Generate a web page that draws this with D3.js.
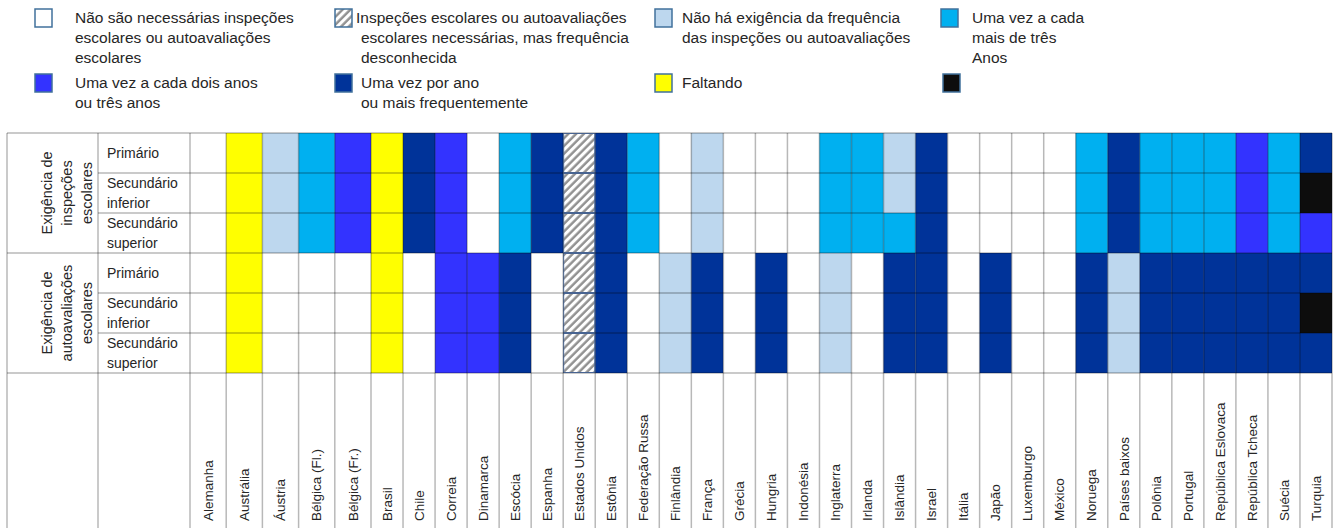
<!DOCTYPE html>
<html>
<head>
<meta charset="utf-8">
<script src="https://cdn.jsdelivr.net/npm/d3@7"></script>
<style>
  body { margin: 0; background: #fff; }
  text { font-family: "Liberation Sans", Arial, sans-serif; fill: #262626; }
</style>
</head>
<body>
<svg id="chart"></svg>
<script>
// codes: N = não necessárias, H = frequência desconhecida, L = sem exigência de frequência,
// C = mais de três anos, B = dois ou três anos, D = uma vez por ano, Y = faltando, K = preto
const countries = ["Alemanha", "Austrália", "Áustria", "Bélgica (Fl.)", "Bélgica (Fr.)", "Brasil", "Chile",
  "Correia", "Dinamarca", "Escócia", "Espanha", "Estados Unidos", "Estônia", "Federação Russa", "Finlândia",
  "França", "Grécia", "Hungria", "Indonésia", "Inglaterra", "Irlanda", "Islândia", "Israel", "Itália", "Japão",
  "Luxemburgo", "México", "Noruega", "Países baixos", "Polônia", "Portugal", "República  Eslovaca",
  "República Tcheca", "Suécia", "Turquia"];

const levels = [["Primário"], ["Secundário", "inferior"], ["Secundário", "superior"]];
const groups = [["Exigência de", "inspeções", "escolares"], ["Exigência de", "autoavaliações", "escolares"]];

// per country: primário, secundário inferior, secundário superior
const inspecoes = ["NNN", "YYY", "LLL", "CCC", "BBB", "YYY", "DDD", "BBB", "NNN", "CCC", "DDD", "HHH",
  "DDD", "CCC", "NNN", "LLL", "NNN", "NNN", "NNN", "CCC", "CCC", "LLC", "DDD", "NNN", "NNN", "NNN", "NNN",
  "CCC", "DDD", "CCC", "CCC", "CCC", "BBB", "CCC", "DKB"];
const autoavaliacoes = ["NNN", "YYY", "NNN", "NNN", "NNN", "YYY", "NNN", "BBB", "BBB", "DDD", "NNN", "HHH",
  "DDD", "NNN", "LLL", "DDD", "NNN", "DDD", "NNN", "LLL", "NNN", "DDD", "DDD", "NNN", "DDD", "NNN", "NNN",
  "DDD", "LLL", "DDD", "DDD", "DDD", "DDD", "DDD", "DKD"];

const legendCodes = ["N", "H", "L", "C", "B", "D", "Y", "K"];
const legendLabels = [
  ["Não são necessárias inspeções", "escolares ou autoavaliações", "escolares"],
  ["Inspeções escolares ou autoavaliações", "escolares necessárias, mas frequência", "desconhecida"],
  ["Não há exigência da frequência", "das inspeções ou autoavaliações"],
  ["Uma vez a cada", "mais de três", "Anos"],
  ["Uma vez a cada dois anos", "ou três anos"],
  ["Uma vez por ano", "ou mais frequentemente"],
  ["Faltando"],
  []
];

const width = 1339, height = 528;
const colors = { N: "#ffffff", L: "#bdd7ee", C: "#00b0f0", B: "#3333ff", D: "#003399", Y: "#ffff00", K: "#0d0d0d" };

const svg = d3.select("#chart").attr("width", width).attr("height", height);

const defs = svg.append("defs");
const pat = defs.append("pattern")
  .attr("id", "hatch")
  .attr("patternUnits", "userSpaceOnUse")
  .attr("width", 5.5).attr("height", 5.5)
  .attr("patternTransform", "rotate(45)");
pat.append("rect").attr("width", 5.5).attr("height", 5.5).attr("fill", "#fff");
pat.append("line").attr("x1", 1.5).attr("x2", 1.5).attr("y1", 0).attr("y2", 5.5)
  .attr("stroke", "#8f8f8f").attr("stroke-width", 2.4);

const fill = c => c === "H" ? "url(#hatch)" : colors[c];

// table geometry
const tableLeft = 7, groupRight = 98, labelRight = 190, tableRight = 1332;
const gridTop = 133, gridBottom = 373;

const x = d3.scaleLinear().domain([0, 5, countries.length]).range([labelRight, 371, tableRight]);
const y = d3.scaleBand().domain(d3.range(6)).range([gridTop, gridBottom]);

const cells = [];
countries.forEach((c, i) => {
  [inspecoes[i], autoavaliacoes[i]].forEach((s, g) => {
    s.split("").forEach((code, r) => cells.push({ col: i, row: g * 3 + r, code }));
  });
});

const g = svg.append("g");

g.selectAll("rect.cell").data(cells).enter().append("rect")
  .attr("class", "cell")
  .attr("x", d => x(d.col))
  .attr("y", d => y(d.row))
  .attr("width", d => x(d.col + 1) - x(d.col))
  .attr("height", y.bandwidth())
  .attr("fill", d => fill(d.code));

// hatched cell borders
g.selectAll("rect.hb").data(cells.filter(d => d.code === "H")).enter().append("rect")
  .attr("x", d => x(d.col) + 0.5)
  .attr("y", d => y(d.row) + 0.5)
  .attr("width", d => x(d.col + 1) - x(d.col) - 1)
  .attr("height", y.bandwidth() - 1)
  .attr("fill", "none").attr("stroke", "#5b7fb8").attr("stroke-width", 1);

const lineCol = "rgba(0,0,0,0.28)";
// vertical lines
const vx = [tableLeft, groupRight].concat(d3.range(countries.length + 1).map(i => x(i)));
g.selectAll("line.v").data(vx).enter().append("line")
  .attr("x1", d => d).attr("x2", d => d)
  .attr("y1", gridTop).attr("y2", height)
  .attr("stroke", lineCol).attr("stroke-width", 1.5);
// horizontal lines
const hy = d3.range(7).map(i => i < 6 ? y(i) : gridBottom);
g.selectAll("line.h").data(hy).enter().append("line")
  .attr("x1", (d, i) => i % 3 === 0 ? tableLeft : groupRight)
  .attr("x2", tableRight)
  .attr("y1", d => d).attr("y2", d => d)
  .attr("stroke", lineCol).attr("stroke-width", 1.5);

// row labels
levels.concat(levels).forEach((lines, r) => {
  const cy = y(r) + y.bandwidth() / 2;
  const t = g.append("text").attr("font-size", 14);
  lines.forEach((l, k) => {
    t.append("tspan").attr("x", 107)
      .attr("y", cy + 5 + (k - (lines.length - 1) / 2) * 20)
      .text(l);
  });
});

// group labels
groups.forEach((lines, gi) => {
  const cy = (y(gi * 3) + y(gi * 3 + 2) + y.bandwidth()) / 2;
  lines.forEach((l, k) => {
    g.append("text")
      .attr("transform", `translate(${47 + k * 20},${cy}) rotate(-90)`)
      .attr("text-anchor", "middle")
      .attr("dy", "0.35em")
      .attr("font-size", 14.5)
      .text(l);
  });
});

// country labels
g.selectAll("text.country").data(countries).enter().append("text")
  .attr("class", "country")
  .attr("transform", (d, i) => `translate(${(x(i) + x(i + 1)) / 2},521) rotate(-90)`)
  .attr("dy", "0.35em")
  .attr("font-size", 13.5)
  .text(d => d);

// legend
const legCols = [{ bx: 35, tx: 75 }, { bx: 335, tx: 361 }, { bx: 655, tx: 682 }, { bx: 941, tx: 972 }];
const legRows = [9, 74];
const leg = svg.append("g");
legendCodes.forEach((code, i) => {
  const col = legCols[i % 4], by = legRows[Math.floor(i / 4)];
  leg.append("rect")
    .attr("x", col.bx + (code === "K" ? 2 : 0)).attr("y", by)
    .attr("width", 17).attr("height", 18)
    .attr("fill", fill(code))
    .attr("stroke", "#41719c").attr("stroke-width", 1.5);
  const t = leg.append("text").attr("font-size", 15.5);
  legendLabels[i].forEach((l, k) => {
    t.append("tspan")
      .attr("x", col.tx - (code === "H" && k === 0 ? 5 : 0))
      .attr("y", by + 14 + k * 20)
      .text(l);
  });
});
</script>
</body>
</html>
